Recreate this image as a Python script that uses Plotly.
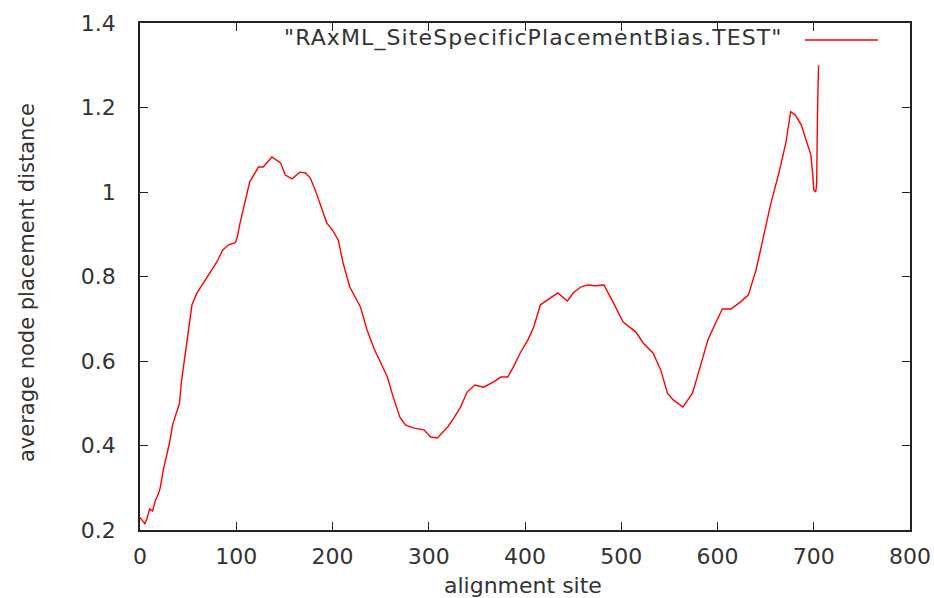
import plotly.graph_objects as go

site = [0, 2, 5, 7, 10, 13, 16, 19, 21, 24, 27, 31, 34, 38, 41, 43, 47, 50, 54, 59, 66, 73, 80, 86, 92, 99,
        101, 104, 109, 114, 120, 123, 128, 137, 146, 151, 158, 166, 172, 177, 182, 189, 194, 200, 206, 211,
        218, 229, 236, 243, 250, 257, 263, 270, 276, 285, 295, 302, 309, 315, 320, 326, 333, 340, 348, 357,
        367, 375, 382, 388, 395, 403, 409, 416, 423, 434, 444, 450, 458, 465, 473, 482, 492, 502, 515, 523,
        533, 541, 548, 554, 564, 574, 582, 590, 598, 605, 614, 624, 632, 640, 647, 655, 664, 671, 676, 681,
        687, 692, 697, 699, 700, 702, 703, 704, 705]
distance = [0.23, 0.225, 0.215, 0.225, 0.25, 0.245, 0.27, 0.285, 0.30, 0.34, 0.37, 0.41, 0.45, 0.48, 0.50,
            0.55, 0.62, 0.673, 0.733, 0.76, 0.785, 0.808, 0.835, 0.863, 0.875, 0.88, 0.893, 0.927, 0.976,
            1.024, 1.047, 1.059, 1.059, 1.083, 1.069, 1.04, 1.031, 1.047, 1.045, 1.033, 1.005, 0.957, 0.927,
            0.91, 0.886, 0.832, 0.775, 0.728, 0.673, 0.63, 0.595, 0.562, 0.515, 0.467, 0.448, 0.441, 0.437,
            0.42, 0.418, 0.432, 0.445, 0.465, 0.491, 0.527, 0.543, 0.538, 0.55, 0.562, 0.562, 0.586, 0.619,
            0.65, 0.68, 0.733, 0.744, 0.761, 0.742, 0.761, 0.775, 0.78, 0.778, 0.78, 0.737, 0.692, 0.669,
            0.642, 0.619, 0.579, 0.524, 0.508, 0.491, 0.524, 0.586, 0.65, 0.69, 0.723, 0.723, 0.74, 0.756,
            0.815, 0.886, 0.969, 1.047, 1.116, 1.19, 1.182, 1.159, 1.123, 1.088, 1.04, 1.005, 1.0, 1.017,
            1.20, 1.30]

y_ticks = [0.2, 0.4, 0.6, 0.8, 1.0, 1.2, 1.4]
y_tick_labels = ["0.2", "0.4", "0.6", "0.8", "1", "1.2", "1.4"]
x_ticks = [0, 100, 200, 300, 400, 500, 600, 700, 800]
x_tick_labels = ["0", "100", "200", "300", "400", "500", "600", "700", "800"]
legend_label = '"RAxML_SiteSpecificPlacementBias.TEST"'
x_title = "alignment site"
y_title = "average node placement distance"

font_family = "DejaVu Sans"
text_color = "#333333"
W, H = 934, 598
L, T = 140, 23
R = W - 910
B = H - 530
PW, PH = W - L - R, H - T - B


def px(xp):
    return (xp - L) / PW


def py(yp):
    return (H - B - yp) / PH


fig = go.Figure()
fig.add_trace(go.Scatter(x=site, y=distance, mode="lines",
                         line=dict(color="#ff0000", width=1.4), showlegend=False))

axis_common = dict(showline=True, linecolor="#222222", linewidth=1.5, mirror="allticks",
                   ticks="inside", ticklen=8, tickcolor="#222222", tickwidth=1.2,
                   showgrid=False, zeroline=False, automargin=False,
                   tickfont=dict(family=font_family, size=22, color=text_color))

fig.update_layout(
    width=W, height=H,
    margin=dict(l=L, r=R, t=T, b=B),
    paper_bgcolor="white", plot_bgcolor="white",
    xaxis=dict(range=[0, 800], tickvals=x_ticks, ticktext=x_tick_labels, ticklabelstandoff=6,
               **axis_common),
    yaxis=dict(range=[0.2, 1.4], tickvals=y_ticks, ticktext=y_tick_labels, ticklabelstandoff=18,
               **axis_common),
)

# axis titles
fig.add_annotation(xref="paper", yref="paper", x=px(523), y=py(585),
                   text=x_title, showarrow=False, xanchor="center", yanchor="middle",
                   font=dict(family=font_family, size=22, color=text_color))
fig.add_annotation(xref="paper", yref="paper", x=px(27), y=py(283),
                   text=y_title, showarrow=False, xanchor="center", yanchor="middle", textangle=-90,
                   font=dict(family=font_family, size=21, color=text_color))

# gnuplot-style key: label on left, line sample on right (top-right inside plot)
fig.add_annotation(xref="paper", yref="paper", x=px(785), y=py(38),
                   text='<span style="letter-spacing:1.1px">' + legend_label + '</span>',
                   showarrow=False, xanchor="right", yanchor="middle",
                   font=dict(family=font_family, size=22, color=text_color))
fig.add_shape(type="line", xref="paper", yref="paper",
              x0=px(805), x1=px(878), y0=py(40), y1=py(40),
              line=dict(color="#ff0000", width=1.4))

fig.write_html("out.html", config={"displayModeBar": False},
               post_script="document.body.style.margin='0';document.body.style.overflow='hidden';")
